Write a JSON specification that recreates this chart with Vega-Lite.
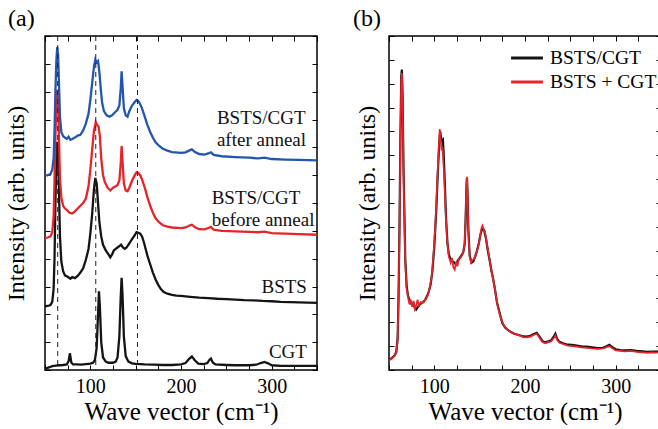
{
  "$schema": "https://vega.github.io/schema/vega-lite/v6.json",
  "padding": {"left": 3, "top": 5, "right": 0, "bottom": 0},
  "config": {"font": "Liberation Serif", "view": {"stroke": "black", "strokeWidth": 1.5}, "text": {"font": "Liberation Serif"},
    "legend": {"rowPadding": -4, "symbolType": "M-1.3,0H1.3", "symbolSize": 600, "symbolStrokeWidth": 3, "labelFontSize": 19.5, "labelColor": "black", "labelOffset": 9, "titlePadding": 0}},
  "datasets": {
    "a": [
      {"s":"CGT","x":50,"y":0.05},{"s":"CGT","x":52,"y":0.07},{"s":"CGT","x":55,"y":0.1},{"s":"CGT","x":58,"y":0.14},{"s":"CGT","x":62,"y":0.16},{"s":"CGT","x":66,"y":0.17},{"s":"CGT","x":70,"y":0.18},{"s":"CGT","x":74,"y":0.2},{"s":"CGT","x":76,"y":0.32},{"s":"CGT","x":77.5,"y":0.6},{"s":"CGT","x":79,"y":0.27},{"s":"CGT","x":81,"y":0.2},{"s":"CGT","x":85,"y":0.2},{"s":"CGT","x":90,"y":0.19},{"s":"CGT","x":95,"y":0.21},{"s":"CGT","x":100,"y":0.23},{"s":"CGT","x":103,"y":0.26},{"s":"CGT","x":105,"y":0.35},{"s":"CGT","x":107,"y":0.8},{"s":"CGT","x":108.5,"y":2.0},{"s":"CGT","x":109.5,"y":2.83},{"s":"CGT","x":110.5,"y":2.3},{"s":"CGT","x":112,"y":1.0},{"s":"CGT","x":114,"y":0.45},{"s":"CGT","x":117,"y":0.3},{"s":"CGT","x":120,"y":0.26},{"s":"CGT","x":125,"y":0.26},{"s":"CGT","x":128,"y":0.3},{"s":"CGT","x":130,"y":0.45},{"s":"CGT","x":132,"y":1.2},{"s":"CGT","x":133.5,"y":2.6},{"s":"CGT","x":134.5,"y":3.31},{"s":"CGT","x":135.5,"y":2.7},{"s":"CGT","x":137,"y":1.2},{"s":"CGT","x":139,"y":0.5},{"s":"CGT","x":142,"y":0.3},{"s":"CGT","x":146,"y":0.24},{"s":"CGT","x":150,"y":0.22},{"s":"CGT","x":160,"y":0.2},{"s":"CGT","x":170,"y":0.19},{"s":"CGT","x":180,"y":0.18},{"s":"CGT","x":190,"y":0.18},{"s":"CGT","x":200,"y":0.2},{"s":"CGT","x":205,"y":0.25},{"s":"CGT","x":209,"y":0.4},{"s":"CGT","x":212,"y":0.49},{"s":"CGT","x":215,"y":0.36},{"s":"CGT","x":219,"y":0.23},{"s":"CGT","x":225,"y":0.21},{"s":"CGT","x":229,"y":0.25},{"s":"CGT","x":231.5,"y":0.37},{"s":"CGT","x":233,"y":0.41},{"s":"CGT","x":235,"y":0.27},{"s":"CGT","x":238,"y":0.2},{"s":"CGT","x":250,"y":0.18},{"s":"CGT","x":260,"y":0.17},{"s":"CGT","x":275,"y":0.17},{"s":"CGT","x":283,"y":0.19},{"s":"CGT","x":288,"y":0.25},{"s":"CGT","x":292,"y":0.29},{"s":"CGT","x":296,"y":0.24},{"s":"CGT","x":300,"y":0.17},{"s":"CGT","x":310,"y":0.15},{"s":"CGT","x":325,"y":0.15},{"s":"CGT","x":340,"y":0.15},{"s":"CGT","x":350,"y":0.15},
      {"s":"BSTS","x":50,"y":2.29},{"s":"BSTS","x":53,"y":2.3},{"s":"BSTS","x":56,"y":2.33},{"s":"BSTS","x":58,"y":2.45},{"s":"BSTS","x":59.5,"y":2.9},{"s":"BSTS","x":60.5,"y":4.0},{"s":"BSTS","x":61.5,"y":6.0},{"s":"BSTS","x":62.5,"y":7.6},{"s":"BSTS","x":63.5,"y":8.2},{"s":"BSTS","x":64.5,"y":7.9},{"s":"BSTS","x":65.5,"y":6.3},{"s":"BSTS","x":66.5,"y":4.8},{"s":"BSTS","x":68,"y":3.9},{"s":"BSTS","x":70,"y":3.55},{"s":"BSTS","x":72,"y":3.4},{"s":"BSTS","x":75,"y":3.35},{"s":"BSTS","x":78,"y":3.28},{"s":"BSTS","x":80,"y":3.34},{"s":"BSTS","x":83,"y":3.3},{"s":"BSTS","x":86,"y":3.38},{"s":"BSTS","x":89,"y":3.5},{"s":"BSTS","x":92,"y":3.65},{"s":"BSTS","x":95,"y":3.95},{"s":"BSTS","x":98,"y":4.35},{"s":"BSTS","x":100,"y":4.9},{"s":"BSTS","x":102,"y":5.6},{"s":"BSTS","x":104,"y":6.5},{"s":"BSTS","x":105.5,"y":6.9},{"s":"BSTS","x":107,"y":6.7},{"s":"BSTS","x":108.5,"y":6.0},{"s":"BSTS","x":110,"y":5.3},{"s":"BSTS","x":112,"y":4.8},{"s":"BSTS","x":114,"y":4.5},{"s":"BSTS","x":117,"y":4.3},{"s":"BSTS","x":120,"y":4.15},{"s":"BSTS","x":122,"y":4.05},{"s":"BSTS","x":124,"y":4.15},{"s":"BSTS","x":126,"y":4.3},{"s":"BSTS","x":128,"y":4.35},{"s":"BSTS","x":130,"y":4.4},{"s":"BSTS","x":132,"y":4.45},{"s":"BSTS","x":134,"y":4.5},{"s":"BSTS","x":136,"y":4.4},{"s":"BSTS","x":138,"y":4.35},{"s":"BSTS","x":140,"y":4.4},{"s":"BSTS","x":143,"y":4.55},{"s":"BSTS","x":146,"y":4.7},{"s":"BSTS","x":149,"y":4.85},{"s":"BSTS","x":151,"y":4.95},{"s":"BSTS","x":153,"y":4.93},{"s":"BSTS","x":155,"y":4.9},{"s":"BSTS","x":157,"y":4.8},{"s":"BSTS","x":159,"y":4.6},{"s":"BSTS","x":161,"y":4.35},{"s":"BSTS","x":163,"y":4.1},{"s":"BSTS","x":166,"y":3.8},{"s":"BSTS","x":169,"y":3.5},{"s":"BSTS","x":172,"y":3.25},{"s":"BSTS","x":175,"y":3.05},{"s":"BSTS","x":178,"y":2.9},{"s":"BSTS","x":181,"y":2.8},{"s":"BSTS","x":185,"y":2.74},{"s":"BSTS","x":190,"y":2.7},{"s":"BSTS","x":195,"y":2.67},{"s":"BSTS","x":200,"y":2.66},{"s":"BSTS","x":210,"y":2.63},{"s":"BSTS","x":220,"y":2.6},{"s":"BSTS","x":230,"y":2.58},{"s":"BSTS","x":240,"y":2.56},{"s":"BSTS","x":250,"y":2.55},{"s":"BSTS","x":260,"y":2.53},{"s":"BSTS","x":270,"y":2.51},{"s":"BSTS","x":280,"y":2.5},{"s":"BSTS","x":290,"y":2.48},{"s":"BSTS","x":300,"y":2.47},{"s":"BSTS","x":310,"y":2.45},{"s":"BSTS","x":320,"y":2.44},{"s":"BSTS","x":330,"y":2.43},{"s":"BSTS","x":340,"y":2.42},{"s":"BSTS","x":350,"y":2.41},
      {"s":"before","x":50,"y":4.74},{"s":"before","x":53,"y":4.76},{"s":"before","x":56,"y":4.8},{"s":"before","x":58,"y":4.95},{"s":"before","x":59.5,"y":5.5},{"s":"before","x":60.5,"y":6.8},{"s":"before","x":61.5,"y":8.4},{"s":"before","x":62.5,"y":9.6},{"s":"before","x":63.5,"y":10.07},{"s":"before","x":64.5,"y":9.7},{"s":"before","x":65.5,"y":8.2},{"s":"before","x":66.5,"y":6.9},{"s":"before","x":68,"y":6.2},{"s":"before","x":70,"y":5.9},{"s":"before","x":72,"y":5.8},{"s":"before","x":74,"y":5.75},{"s":"before","x":77,"y":5.65},{"s":"before","x":80,"y":5.62},{"s":"before","x":83,"y":5.7},{"s":"before","x":86,"y":5.8},{"s":"before","x":89,"y":5.9},{"s":"before","x":92,"y":6.0},{"s":"before","x":95,"y":6.15},{"s":"before","x":98,"y":6.6},{"s":"before","x":100,"y":7.2},{"s":"before","x":102,"y":7.9},{"s":"before","x":104,"y":8.6},{"s":"before","x":106,"y":8.9},{"s":"before","x":107.5,"y":8.8},{"s":"before","x":109,"y":8.75},{"s":"before","x":110.5,"y":8.4},{"s":"before","x":112,"y":7.6},{"s":"before","x":114,"y":7.0},{"s":"before","x":116,"y":6.75},{"s":"before","x":119,"y":6.55},{"s":"before","x":122,"y":6.45},{"s":"before","x":125,"y":6.55},{"s":"before","x":128,"y":6.6},{"s":"before","x":130,"y":6.65},{"s":"before","x":132,"y":6.8},{"s":"before","x":133.5,"y":7.4},{"s":"before","x":134.5,"y":8.05},{"s":"before","x":135.5,"y":7.5},{"s":"before","x":137,"y":6.7},{"s":"before","x":139,"y":6.45},{"s":"before","x":141,"y":6.42},{"s":"before","x":143,"y":6.55},{"s":"before","x":146,"y":6.8},{"s":"before","x":149,"y":7.0},{"s":"before","x":151,"y":7.1},{"s":"before","x":153,"y":7.08},{"s":"before","x":155,"y":7.0},{"s":"before","x":157,"y":6.85},{"s":"before","x":160,"y":6.55},{"s":"before","x":163,"y":6.2},{"s":"before","x":166,"y":5.9},{"s":"before","x":169,"y":5.65},{"s":"before","x":172,"y":5.45},{"s":"before","x":176,"y":5.3},{"s":"before","x":180,"y":5.2},{"s":"before","x":185,"y":5.15},{"s":"before","x":190,"y":5.12},{"s":"before","x":200,"y":5.1},{"s":"before","x":205,"y":5.12},{"s":"before","x":210,"y":5.2},{"s":"before","x":212,"y":5.22},{"s":"before","x":215,"y":5.14},{"s":"before","x":220,"y":5.06},{"s":"before","x":226,"y":5.05},{"s":"before","x":230,"y":5.1},{"s":"before","x":233,"y":5.14},{"s":"before","x":236,"y":5.04},{"s":"before","x":245,"y":5.0},{"s":"before","x":260,"y":4.98},{"s":"before","x":275,"y":4.96},{"s":"before","x":285,"y":4.95},{"s":"before","x":292,"y":4.97},{"s":"before","x":300,"y":4.92},{"s":"before","x":315,"y":4.9},{"s":"before","x":330,"y":4.88},{"s":"before","x":350,"y":4.86},
      {"s":"after","x":50,"y":6.98},{"s":"after","x":53,"y":7.0},{"s":"after","x":56,"y":7.04},{"s":"after","x":58,"y":7.2},{"s":"after","x":59.5,"y":7.6},{"s":"after","x":60.5,"y":8.6},{"s":"after","x":61.5,"y":10.0},{"s":"after","x":62.5,"y":11.1},{"s":"after","x":63.5,"y":11.6},{"s":"after","x":64.5,"y":11.3},{"s":"after","x":65.5,"y":10.2},{"s":"after","x":66.5,"y":9.1},{"s":"after","x":68,"y":8.55},{"s":"after","x":70,"y":8.4},{"s":"after","x":72,"y":8.35},{"s":"after","x":74,"y":8.3},{"s":"after","x":76,"y":8.38},{"s":"after","x":78,"y":8.27},{"s":"after","x":80,"y":8.3},{"s":"after","x":83,"y":8.35},{"s":"after","x":86,"y":8.42},{"s":"after","x":89,"y":8.45},{"s":"after","x":92,"y":8.6},{"s":"after","x":95,"y":8.85},{"s":"after","x":98,"y":9.2},{"s":"after","x":100,"y":9.7},{"s":"after","x":102,"y":10.3},{"s":"after","x":104,"y":10.9},{"s":"after","x":105.5,"y":11.15},{"s":"after","x":107,"y":11.05},{"s":"after","x":108.5,"y":11.1},{"s":"after","x":110,"y":10.7},{"s":"after","x":111.5,"y":10.1},{"s":"after","x":113,"y":9.6},{"s":"after","x":115,"y":9.3},{"s":"after","x":118,"y":9.15},{"s":"after","x":121,"y":9.1},{"s":"after","x":124,"y":9.15},{"s":"after","x":127,"y":9.25},{"s":"after","x":130,"y":9.35},{"s":"after","x":132,"y":9.5},{"s":"after","x":133.5,"y":10.1},{"s":"after","x":134.5,"y":10.73},{"s":"after","x":135.5,"y":10.2},{"s":"after","x":137,"y":9.4},{"s":"after","x":139,"y":9.15},{"s":"after","x":141,"y":9.1},{"s":"after","x":143,"y":9.3},{"s":"after","x":146,"y":9.5},{"s":"after","x":149,"y":9.63},{"s":"after","x":151,"y":9.7},{"s":"after","x":153,"y":9.66},{"s":"after","x":155,"y":9.55},{"s":"after","x":157,"y":9.4},{"s":"after","x":160,"y":9.1},{"s":"after","x":163,"y":8.8},{"s":"after","x":166,"y":8.55},{"s":"after","x":169,"y":8.35},{"s":"after","x":172,"y":8.18},{"s":"after","x":176,"y":8.05},{"s":"after","x":180,"y":7.95},{"s":"after","x":185,"y":7.88},{"s":"after","x":190,"y":7.83},{"s":"after","x":200,"y":7.8},{"s":"after","x":205,"y":7.82},{"s":"after","x":210,"y":7.9},{"s":"after","x":212,"y":7.93},{"s":"after","x":215,"y":7.84},{"s":"after","x":220,"y":7.76},{"s":"after","x":226,"y":7.74},{"s":"after","x":230,"y":7.78},{"s":"after","x":233,"y":7.82},{"s":"after","x":236,"y":7.73},{"s":"after","x":245,"y":7.68},{"s":"after","x":260,"y":7.65},{"s":"after","x":275,"y":7.63},{"s":"after","x":285,"y":7.6},{"s":"after","x":292,"y":7.63},{"s":"after","x":300,"y":7.58},{"s":"after","x":315,"y":7.56},{"s":"after","x":330,"y":7.55},{"s":"after","x":350,"y":7.53}
    ],
    "b": [
      {"s":"BSTS/CGT","x":50,"y":0.43},{"s":"BSTS/CGT","x":53,"y":0.5},{"s":"BSTS/CGT","x":56,"y":0.6},{"s":"BSTS/CGT","x":58,"y":0.75},{"s":"BSTS/CGT","x":59.5,"y":1.3},{"s":"BSTS/CGT","x":60.5,"y":3.0},{"s":"BSTS/CGT","x":61.5,"y":5.8},{"s":"BSTS/CGT","x":62.5,"y":9.5},{"s":"BSTS/CGT","x":63.5,"y":12.3},{"s":"BSTS/CGT","x":64.2,"y":12.59},{"s":"BSTS/CGT","x":65,"y":11.5},{"s":"BSTS/CGT","x":66,"y":8.5},{"s":"BSTS/CGT","x":67,"y":6.5},{"s":"BSTS/CGT","x":68,"y":4.6},{"s":"BSTS/CGT","x":69.5,"y":3.5},{"s":"BSTS/CGT","x":71,"y":3.1},{"s":"BSTS/CGT","x":73,"y":2.9},{"s":"BSTS/CGT","x":75,"y":2.75},{"s":"BSTS/CGT","x":77,"y":2.8},{"s":"BSTS/CGT","x":78.5,"y":2.6},{"s":"BSTS/CGT","x":80,"y":2.53},{"s":"BSTS/CGT","x":82,"y":2.65},{"s":"BSTS/CGT","x":84,"y":2.75},{"s":"BSTS/CGT","x":86,"y":2.8},{"s":"BSTS/CGT","x":88,"y":2.85},{"s":"BSTS/CGT","x":90,"y":2.95},{"s":"BSTS/CGT","x":92,"y":3.1},{"s":"BSTS/CGT","x":94,"y":3.3},{"s":"BSTS/CGT","x":96,"y":3.6},{"s":"BSTS/CGT","x":98,"y":4.2},{"s":"BSTS/CGT","x":100,"y":5.2},{"s":"BSTS/CGT","x":102,"y":6.6},{"s":"BSTS/CGT","x":104,"y":8.4},{"s":"BSTS/CGT","x":105.5,"y":9.6},{"s":"BSTS/CGT","x":106.5,"y":10.0},{"s":"BSTS/CGT","x":107.5,"y":9.7},{"s":"BSTS/CGT","x":108.5,"y":9.6},{"s":"BSTS/CGT","x":109.5,"y":9.65},{"s":"BSTS/CGT","x":110.5,"y":8.9},{"s":"BSTS/CGT","x":111.5,"y":7.9},{"s":"BSTS/CGT","x":113,"y":6.3},{"s":"BSTS/CGT","x":114.5,"y":5.3},{"s":"BSTS/CGT","x":116,"y":4.85},{"s":"BSTS/CGT","x":118,"y":4.62},{"s":"BSTS/CGT","x":120,"y":4.55},{"s":"BSTS/CGT","x":122,"y":4.5},{"s":"BSTS/CGT","x":124,"y":4.42},{"s":"BSTS/CGT","x":126,"y":4.6},{"s":"BSTS/CGT","x":128,"y":4.7},{"s":"BSTS/CGT","x":130,"y":4.8},{"s":"BSTS/CGT","x":132,"y":4.95},{"s":"BSTS/CGT","x":133.5,"y":5.3},{"s":"BSTS/CGT","x":134.5,"y":6.3},{"s":"BSTS/CGT","x":135.5,"y":7.7},{"s":"BSTS/CGT","x":136,"y":8.05},{"s":"BSTS/CGT","x":136.7,"y":7.3},{"s":"BSTS/CGT","x":137.5,"y":5.9},{"s":"BSTS/CGT","x":139,"y":4.8},{"s":"BSTS/CGT","x":141,"y":4.5},{"s":"BSTS/CGT","x":143,"y":4.55},{"s":"BSTS/CGT","x":145,"y":4.75},{"s":"BSTS/CGT","x":147,"y":5.0},{"s":"BSTS/CGT","x":149,"y":5.3},{"s":"BSTS/CGT","x":151,"y":5.7},{"s":"BSTS/CGT","x":153,"y":5.95},{"s":"BSTS/CGT","x":155,"y":5.85},{"s":"BSTS/CGT","x":157,"y":5.5},{"s":"BSTS/CGT","x":159,"y":5.0},{"s":"BSTS/CGT","x":161,"y":4.6},{"s":"BSTS/CGT","x":163,"y":4.15},{"s":"BSTS/CGT","x":165,"y":3.8},{"s":"BSTS/CGT","x":167,"y":3.35},{"s":"BSTS/CGT","x":169,"y":2.85},{"s":"BSTS/CGT","x":171,"y":2.55},{"s":"BSTS/CGT","x":173,"y":2.25},{"s":"BSTS/CGT","x":175,"y":1.97},{"s":"BSTS/CGT","x":178,"y":1.78},{"s":"BSTS/CGT","x":181,"y":1.68},{"s":"BSTS/CGT","x":185,"y":1.58},{"s":"BSTS/CGT","x":188,"y":1.52},{"s":"BSTS/CGT","x":192,"y":1.48},{"s":"BSTS/CGT","x":197,"y":1.42},{"s":"BSTS/CGT","x":201,"y":1.4},{"s":"BSTS/CGT","x":205,"y":1.42},{"s":"BSTS/CGT","x":209,"y":1.5},{"s":"BSTS/CGT","x":213,"y":1.56},{"s":"BSTS/CGT","x":216,"y":1.4},{"s":"BSTS/CGT","x":219,"y":1.22},{"s":"BSTS/CGT","x":222,"y":1.16},{"s":"BSTS/CGT","x":226,"y":1.2},{"s":"BSTS/CGT","x":229,"y":1.25},{"s":"BSTS/CGT","x":232,"y":1.42},{"s":"BSTS/CGT","x":233.5,"y":1.52},{"s":"BSTS/CGT","x":235.5,"y":1.3},{"s":"BSTS/CGT","x":238,"y":1.18},{"s":"BSTS/CGT","x":242,"y":1.12},{"s":"BSTS/CGT","x":247,"y":1.06},{"s":"BSTS/CGT","x":252,"y":1.05},{"s":"BSTS/CGT","x":257,"y":1.02},{"s":"BSTS/CGT","x":262,"y":0.99},{"s":"BSTS/CGT","x":268,"y":0.98},{"s":"BSTS/CGT","x":274,"y":0.95},{"s":"BSTS/CGT","x":280,"y":0.92},{"s":"BSTS/CGT","x":286,"y":0.93},{"s":"BSTS/CGT","x":290,"y":1.0},{"s":"BSTS/CGT","x":293,"y":1.06},{"s":"BSTS/CGT","x":296,"y":0.97},{"s":"BSTS/CGT","x":300,"y":0.87},{"s":"BSTS/CGT","x":305,"y":0.83},{"s":"BSTS/CGT","x":310,"y":0.82},{"s":"BSTS/CGT","x":317,"y":0.83},{"s":"BSTS/CGT","x":323,"y":0.8},{"s":"BSTS/CGT","x":330,"y":0.78},{"s":"BSTS/CGT","x":335,"y":0.76},{"s":"BSTS/CGT","x":340,"y":0.77},{"s":"BSTS/CGT","x":345,"y":0.77},{"s":"BSTS/CGT","x":350,"y":0.77},
      {"s":"BSTS + CGT","x":50,"y":0.4},{"s":"BSTS + CGT","x":53,"y":0.48},{"s":"BSTS + CGT","x":56,"y":0.58},{"s":"BSTS + CGT","x":58,"y":0.72},{"s":"BSTS + CGT","x":59.5,"y":1.25},{"s":"BSTS + CGT","x":60.5,"y":2.9},{"s":"BSTS + CGT","x":61.5,"y":5.6},{"s":"BSTS + CGT","x":62.5,"y":9.3},{"s":"BSTS + CGT","x":63.5,"y":12.1},{"s":"BSTS + CGT","x":64.2,"y":12.45},{"s":"BSTS + CGT","x":65,"y":11.3},{"s":"BSTS + CGT","x":66,"y":8.3},{"s":"BSTS + CGT","x":67,"y":6.3},{"s":"BSTS + CGT","x":68,"y":4.5},{"s":"BSTS + CGT","x":69.5,"y":3.4},{"s":"BSTS + CGT","x":71,"y":3.05},{"s":"BSTS + CGT","x":72.5,"y":2.75},{"s":"BSTS + CGT","x":74,"y":2.95},{"s":"BSTS + CGT","x":75.5,"y":2.65},{"s":"BSTS + CGT","x":77,"y":2.9},{"s":"BSTS + CGT","x":78.5,"y":2.55},{"s":"BSTS + CGT","x":80,"y":2.7},{"s":"BSTS + CGT","x":81.5,"y":2.95},{"s":"BSTS + CGT","x":83,"y":2.7},{"s":"BSTS + CGT","x":85,"y":2.85},{"s":"BSTS + CGT","x":87,"y":2.8},{"s":"BSTS + CGT","x":89,"y":2.9},{"s":"BSTS + CGT","x":91,"y":3.0},{"s":"BSTS + CGT","x":93,"y":3.15},{"s":"BSTS + CGT","x":95,"y":3.45},{"s":"BSTS + CGT","x":97,"y":3.9},{"s":"BSTS + CGT","x":99,"y":4.8},{"s":"BSTS + CGT","x":101,"y":6.0},{"s":"BSTS + CGT","x":103,"y":7.7},{"s":"BSTS + CGT","x":105,"y":9.4},{"s":"BSTS + CGT","x":106,"y":10.1},{"s":"BSTS + CGT","x":107,"y":9.6},{"s":"BSTS + CGT","x":108,"y":9.2},{"s":"BSTS + CGT","x":109,"y":9.35},{"s":"BSTS + CGT","x":110,"y":8.7},{"s":"BSTS + CGT","x":111,"y":8.0},{"s":"BSTS + CGT","x":112.5,"y":6.6},{"s":"BSTS + CGT","x":114,"y":5.5},{"s":"BSTS + CGT","x":116,"y":4.75},{"s":"BSTS + CGT","x":118,"y":4.5},{"s":"BSTS + CGT","x":119.5,"y":4.7},{"s":"BSTS + CGT","x":121,"y":4.3},{"s":"BSTS + CGT","x":122.5,"y":4.2},{"s":"BSTS + CGT","x":124,"y":4.55},{"s":"BSTS + CGT","x":125.5,"y":4.35},{"s":"BSTS + CGT","x":127,"y":4.65},{"s":"BSTS + CGT","x":129,"y":4.7},{"s":"BSTS + CGT","x":131,"y":4.85},{"s":"BSTS + CGT","x":132.5,"y":5.05},{"s":"BSTS + CGT","x":133.5,"y":5.3},{"s":"BSTS + CGT","x":134.5,"y":6.4},{"s":"BSTS + CGT","x":135.5,"y":7.9},{"s":"BSTS + CGT","x":136,"y":8.1},{"s":"BSTS + CGT","x":136.7,"y":7.2},{"s":"BSTS + CGT","x":137.5,"y":5.8},{"s":"BSTS + CGT","x":139,"y":4.75},{"s":"BSTS + CGT","x":140.5,"y":4.5},{"s":"BSTS + CGT","x":142,"y":4.6},{"s":"BSTS + CGT","x":144,"y":4.65},{"s":"BSTS + CGT","x":146,"y":4.85},{"s":"BSTS + CGT","x":148,"y":5.1},{"s":"BSTS + CGT","x":150,"y":5.5},{"s":"BSTS + CGT","x":152,"y":5.95},{"s":"BSTS + CGT","x":153,"y":6.05},{"s":"BSTS + CGT","x":154.5,"y":5.9},{"s":"BSTS + CGT","x":156,"y":5.75},{"s":"BSTS + CGT","x":158,"y":5.3},{"s":"BSTS + CGT","x":160,"y":4.85},{"s":"BSTS + CGT","x":162,"y":4.4},{"s":"BSTS + CGT","x":164,"y":3.95},{"s":"BSTS + CGT","x":166,"y":3.6},{"s":"BSTS + CGT","x":168,"y":3.1},{"s":"BSTS + CGT","x":170,"y":2.65},{"s":"BSTS + CGT","x":172,"y":2.35},{"s":"BSTS + CGT","x":174,"y":2.1},{"s":"BSTS + CGT","x":177,"y":1.85},{"s":"BSTS + CGT","x":180,"y":1.72},{"s":"BSTS + CGT","x":183,"y":1.62},{"s":"BSTS + CGT","x":186,"y":1.55},{"s":"BSTS + CGT","x":190,"y":1.5},{"s":"BSTS + CGT","x":194,"y":1.45},{"s":"BSTS + CGT","x":198,"y":1.38},{"s":"BSTS + CGT","x":202,"y":1.37},{"s":"BSTS + CGT","x":206,"y":1.4},{"s":"BSTS + CGT","x":210,"y":1.48},{"s":"BSTS + CGT","x":213,"y":1.52},{"s":"BSTS + CGT","x":216,"y":1.35},{"s":"BSTS + CGT","x":219,"y":1.18},{"s":"BSTS + CGT","x":222,"y":1.12},{"s":"BSTS + CGT","x":226,"y":1.17},{"s":"BSTS + CGT","x":229,"y":1.2},{"s":"BSTS + CGT","x":232,"y":1.35},{"s":"BSTS + CGT","x":233.5,"y":1.45},{"s":"BSTS + CGT","x":235.5,"y":1.25},{"s":"BSTS + CGT","x":238,"y":1.14},{"s":"BSTS + CGT","x":242,"y":1.09},{"s":"BSTS + CGT","x":247,"y":1.02},{"s":"BSTS + CGT","x":252,"y":1.0},{"s":"BSTS + CGT","x":257,"y":0.98},{"s":"BSTS + CGT","x":262,"y":0.95},{"s":"BSTS + CGT","x":268,"y":0.93},{"s":"BSTS + CGT","x":274,"y":0.9},{"s":"BSTS + CGT","x":280,"y":0.88},{"s":"BSTS + CGT","x":286,"y":0.9},{"s":"BSTS + CGT","x":290,"y":0.96},{"s":"BSTS + CGT","x":293,"y":1.0},{"s":"BSTS + CGT","x":296,"y":0.92},{"s":"BSTS + CGT","x":300,"y":0.82},{"s":"BSTS + CGT","x":305,"y":0.8},{"s":"BSTS + CGT","x":310,"y":0.78},{"s":"BSTS + CGT","x":317,"y":0.8},{"s":"BSTS + CGT","x":323,"y":0.76},{"s":"BSTS + CGT","x":330,"y":0.74},{"s":"BSTS + CGT","x":335,"y":0.72},{"s":"BSTS + CGT","x":340,"y":0.74},{"s":"BSTS + CGT","x":345,"y":0.73},{"s":"BSTS + CGT","x":350,"y":0.74}
    ]
  },
  "bounds": "flush",
  "spacing": 72,
  "resolve": {"scale": {"x": "independent", "y": "independent", "color": "independent"}},
  "hconcat": [
    {
      "width": 272, "height": 334,
      "title": {"text": "(a)", "anchor": "start", "frame": "group", "dx": -37, "fontSize": 24, "fontWeight": "normal", "offset": 5, "color": "black"},
      "resolve": {"axis": {"x": "independent", "y": "independent"}},
      "layer": [
        {
          "data": {"name": "a"},
          "mark": {"type": "line", "strokeWidth": 2.3},
          "encoding": {
            "x": {"field": "x", "type": "quantitative", "scale": {"domain": [50, 350], "nice": false, "zero": false},
              "axis": {"orient": "bottom", "values": [50,75,100,125,150,175,200,225,250,275,300,325,350], "labelExpr": "datum.value % 100 === 0 ? datum.label : ''", "labelOverlap": false, "labelFlush": false, "tickSize": -5, "tickColor": "black", "domain": false, "grid": false, "labelFontSize": 20, "labelColor": "black", "labelPadding": 11, "title": "Wave vector (cm⁻¹)", "titleFontSize": 25, "titleFontWeight": "normal", "titleColor": "black", "titlePadding": 3,
                "encode": {"ticks": {"update": {"y2": {"signal": "datum.value % 50 === 0 ? -7 : -4"}}}}}},
            "y": {"field": "y", "type": "quantitative", "scale": {"domain": [0, 12], "nice": false},
              "axis": {"orient": "left", "values": [0,1,2,3,4,5,6,7,8,9,10,11,12], "labels": false, "tickSize": -5, "tickColor": "black", "domain": false, "grid": false, "title": "Intensity (arb. units)", "titleFontSize": 24, "titleFontWeight": "normal", "titleColor": "black", "titlePadding": 16,
                "encode": {"ticks": {"update": {"x2": {"signal": "datum.value % 2 === 0 ? 7 : 4"}}}}}},
            "color": {"field": "s", "type": "nominal", "scale": {"domain": ["CGT", "BSTS", "before", "after"], "range": ["#141414", "#141414", "#e8242b", "#2456ad"]}, "legend": null}
          }
        },
        {
          "data": {"values": [{"d": 64}, {"d": 106}, {"d": 152}]},
          "mark": {"type": "rule", "strokeDash": [5, 4], "strokeWidth": 1, "color": "#222"},
          "encoding": {
            "x": {"field": "d", "type": "quantitative", "axis": {"orient": "top", "values": [50,75,100,125,150,175,200,225,250,275,300,325,350], "labels": false, "tickSize": -5, "tickColor": "black", "domain": false, "grid": false, "title": null,
              "encode": {"ticks": {"update": {"y2": {"signal": "datum.value % 50 === 0 ? 7 : 4"}}}}}}
          }
        },
        {
          "data": {"values": [{"t": "BSTS/CGT", "x": 239.6, "y": 9.05}, {"t": "after anneal", "x": 239.6, "y": 8.25}, {"t": "BSTS/CGT", "x": 233.8, "y": 6.18}, {"t": "before anneal", "x": 233.8, "y": 5.4}]},
          "mark": {"type": "text", "align": "left", "baseline": "middle", "fontSize": 19, "color": "#111"},
          "encoding": {
            "x": {"field": "x", "type": "quantitative", "axis": null},
            "y": {"field": "y", "type": "quantitative", "axis": {"orient": "right", "values": [0,1,2,3,4,5,6,7,8,9,10,11,12], "labels": false, "tickSize": -5, "tickColor": "black", "domain": false, "grid": false, "title": null,
              "encode": {"ticks": {"update": {"x2": {"signal": "datum.value % 2 === 0 ? -7 : -4"}}}}}},
            "text": {"field": "t"}
          }
        },
        {
          "data": {"values": [{"t": "BSTS", "x": 338.9, "y": 2.98}, {"t": "CGT", "x": 338.9, "y": 0.64}]},
          "mark": {"type": "text", "align": "right", "baseline": "middle", "fontSize": 19, "color": "#111"},
          "encoding": {
            "x": {"field": "x", "type": "quantitative", "axis": null},
            "y": {"field": "y", "type": "quantitative", "axis": null},
            "text": {"field": "t"}
          }
        }
      ]
    },
    {
      "width": 272, "height": 334,
      "title": {"text": "(b)", "anchor": "start", "frame": "group", "dx": -36, "fontSize": 24, "fontWeight": "normal", "offset": 5, "color": "black"},
      "resolve": {"axis": {"x": "independent", "y": "independent"}},
      "layer": [
        {
          "data": {"name": "b"},
          "transform": [{"filter": "datum.s === 'BSTS/CGT'"}],
          "mark": {"type": "line", "strokeWidth": 2.2},
          "encoding": {
            "x": {"field": "x", "type": "quantitative", "scale": {"domain": [50, 350], "nice": false, "zero": false},
              "axis": {"orient": "bottom", "values": [50,75,100,125,150,175,200,225,250,275,300,325,350], "labelExpr": "datum.value % 100 === 0 ? datum.label : ''", "labelOverlap": false, "labelFlush": false, "tickSize": -5, "tickColor": "black", "domain": false, "grid": false, "labelFontSize": 20, "labelColor": "black", "labelPadding": 11, "title": "Wave vector (cm⁻¹)", "titleFontSize": 25, "titleFontWeight": "normal", "titleColor": "black", "titlePadding": 3,
                "encode": {"ticks": {"update": {"y2": {"signal": "datum.value % 50 === 0 ? -7 : -4"}}}}}},
            "y": {"field": "y", "type": "quantitative", "scale": {"domain": [0, 14], "nice": false},
              "axis": {"orient": "left", "values": [0,1,2,3,4,5,6,7,8,9,10,11,12,13,14], "labels": false, "tickSize": -5, "tickColor": "black", "domain": false, "grid": false, "title": "Intensity (arb. units)", "titleFontSize": 24, "titleFontWeight": "normal", "titleColor": "black", "titlePadding": 9,
                "encode": {"ticks": {"update": {"x2": {"signal": "datum.value % 2 === 0 ? 7 : 4"}}}}}},
            "color": {"field": "s", "type": "nominal", "scale": {"domain": ["BSTS/CGT", "BSTS + CGT"], "range": ["#141414", "#e8242b"]},
              "legend": {"orient": "none", "legendX": 124, "legendY": 8, "title": null}}
          }
        },
        {
          "data": {"name": "b"},
          "transform": [{"filter": "datum.s === 'BSTS + CGT'"}],
          "mark": {"type": "line", "strokeWidth": 1.7},
          "encoding": {
            "x": {"field": "x", "type": "quantitative", "axis": {"orient": "top", "values": [50,75,100,125,150,175,200,225,250,275,300,325,350], "labels": false, "tickSize": -5, "tickColor": "black", "domain": false, "grid": false, "title": null,
              "encode": {"ticks": {"update": {"y2": {"signal": "datum.value % 50 === 0 ? 7 : 4"}}}}}},
            "y": {"field": "y", "type": "quantitative", "axis": {"orient": "right", "values": [0,1,2,3,4,5,6,7,8,9,10,11,12,13,14], "labels": false, "tickSize": -5, "tickColor": "black", "domain": false, "grid": false, "title": null,
              "encode": {"ticks": {"update": {"x2": {"signal": "datum.value % 2 === 0 ? -7 : -4"}}}}}},
            "color": {"field": "s", "type": "nominal", "legend": {"orient": "none", "legendX": 124, "legendY": 8, "title": null}}
          }
        }
      ]
    }
  ]
}
